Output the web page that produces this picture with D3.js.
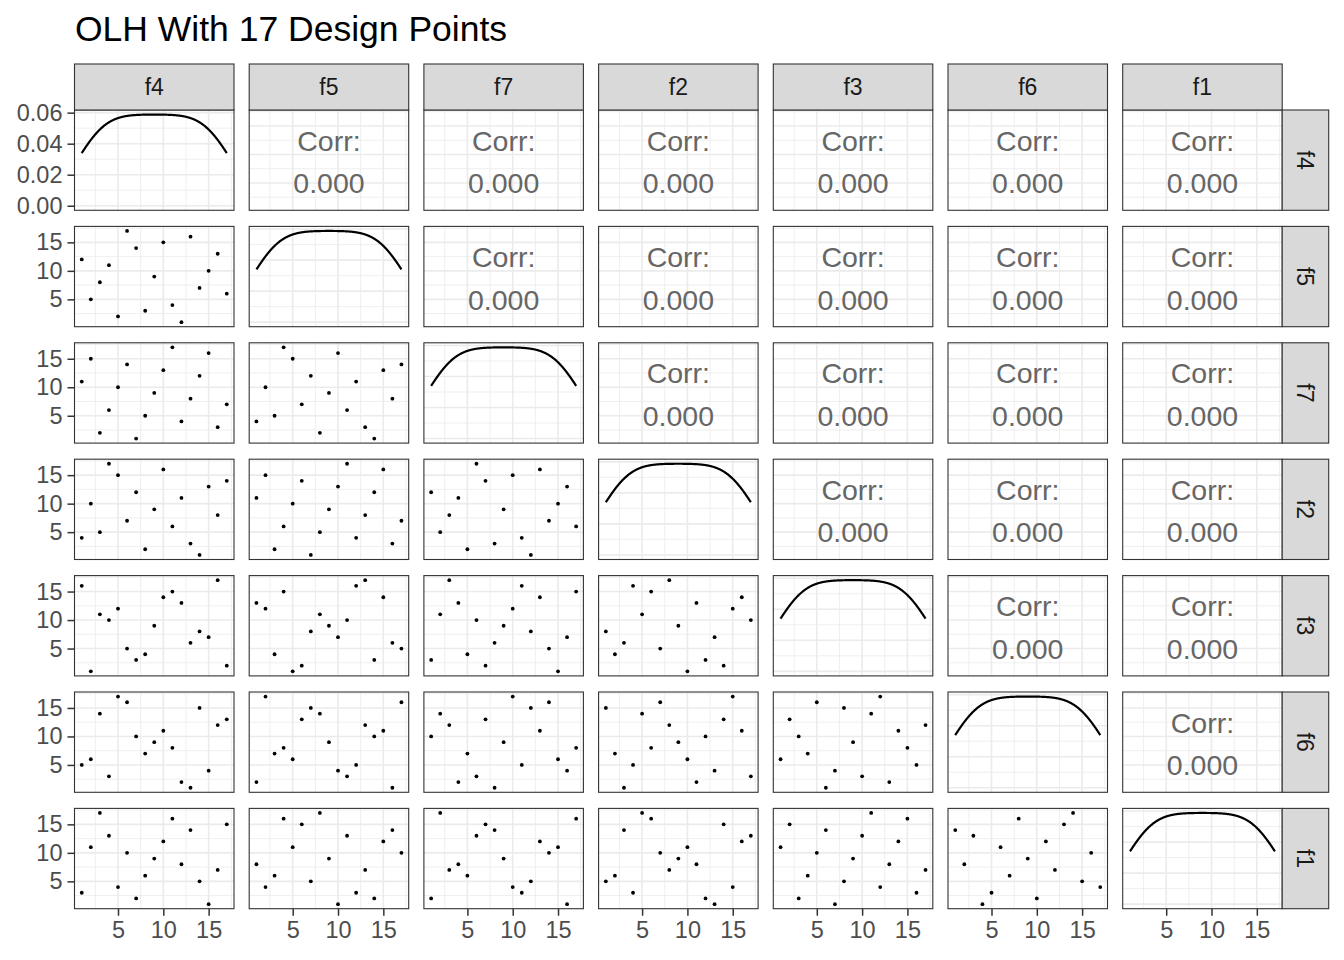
<!DOCTYPE html>
<html><head><meta charset="utf-8">
<script src="https://cdn.jsdelivr.net/npm/d3@7"></script>
<style>
body{margin:0;background:#fff}
text{font-family:"Liberation Sans",Arial,Helvetica,sans-serif}
</style>
</head><body>
<svg id="chart" width="1344" height="960"></svg>
<script>
// ---- data (17 design points, one value per variable) ----
const varNames = ["f4","f5","f7","f2","f3","f6","f1"];
const f4 = [1,2,3,4,5,6,7,8,9,10,11,12,13,14,15,16,17];
const f5 = [12,5,8,11,2,17,14,3,9,15,4,1,16,7,10,13,6];
const f7 = [11,15,2,6,10,14,1,5,9,13,17,4,8,12,16,3,7];
const f2 = [4,10,5,17,15,7,12,2,9,16,6,11,3,1,13,8,14];
const f3 = [16,1,11,10,12,5,3,4,9,14,15,13,6,8,7,17,2];
const f6 = [5,6,14,3,17,16,10,7,9,11,8,2,1,15,4,12,13];
const f1 = [3,11,17,13,4,10,2,6,9,12,16,8,14,5,1,7,15];
const columns = [f4,f5,f7,f2,f3,f6,f1];
const scatterTicks = [5,10,15];
const scatterMinor = [2.5,7.5,12.5,17.5];
const densityTicks = [0,0.02,0.04,0.06];
const densityMinor = [0.01,0.03,0.05];
const titleText = "OLH With 17 Design Points";

// ---- layout ----
const svg = d3.select("#chart");
const nV = varNames.length;
const x0 = 74.5, colPitch = 174.7, pw = 159.5;
const y0 = 110, rowPitch = 116.4, ph = 100.3;
const stripTop = 64, stripH = 46, rightStripW = 46.5;
const colL = j => x0 + j*colPitch;
const rowT = i => y0 + i*rowPitch;

const gridCol = "#EBEBEB", borderCol = "#333333";
const axisTextCol = "#4D4D4D";

// scales shared by all scatter panels
const allVals = columns.flat();
const vMin = d3.min(allVals), vMax = d3.max(allVals);
const pad = (vMax - vMin)*0.05;
const xS = d3.scaleLinear().domain([vMin-pad, vMax+pad]).range([0, pw]);
const yS = d3.scaleLinear().domain([vMin-pad, vMax+pad]).range([ph, 0]);

// kernel density (gaussian, bw.nrd0), evaluated over data range
function kde(vals){
  const s = vals.slice().sort((a,b)=>a-b);
  const n = s.length;
  const sd = d3.deviation(s);
  const iqr = d3.quantile(s,0.75) - d3.quantile(s,0.25);
  const h = 0.9*Math.min(sd, iqr/1.34)*Math.pow(n,-0.2);
  const lo = s[0], hi = s[n-1];
  return d3.range(512).map(k=>{
    const x = lo + (hi-lo)*k/511;
    const d = d3.mean(s, v=>Math.exp(-0.5*((x-v)/h)**2)/Math.sqrt(2*Math.PI))/h;
    return [x,d];
  });
}
function corr(a,b){
  const ma=d3.mean(a), mb=d3.mean(b);
  let sab=0,saa=0,sbb=0;
  for(let k=0;k<a.length;k++){sab+=(a[k]-ma)*(b[k]-mb);saa+=(a[k]-ma)**2;sbb+=(b[k]-mb)**2;}
  return sab/Math.sqrt(saa*sbb);
}

// title
svg.append("text").attr("x",75).attr("y",41).attr("font-size",35.5)
  .attr("fill","#000").text(titleText);

let densYForRow0 = null;

for(let i=0;i<nV;i++){
  for(let j=0;j<nV;j++){
    const g = svg.append("g").attr("transform",`translate(${colL(j)},${rowT(i)})`);
    g.append("rect").attr("width",pw).attr("height",ph).attr("fill","#fff");
    let yScale = yS, yMaj = scatterTicks, yMin = scatterMinor, dens=null;
    if(i===j){
      dens = kde(columns[j]);
      const dMax = d3.max(dens,d=>d[1]);
      yScale = d3.scaleLinear().domain([-0.05*dMax, 1.05*dMax]).range([ph,0]);
      yMaj = densityTicks; yMin = densityMinor;
      if(i===0) densYForRow0 = yScale;
    }
    // minor grid
    g.selectAll(null).data(scatterMinor.filter(v=>v>=xS.domain()[0]&&v<=xS.domain()[1])).enter().append("line")
      .attr("x1",d=>xS(d)).attr("x2",d=>xS(d)).attr("y1",0).attr("y2",ph)
      .attr("stroke",gridCol).attr("stroke-width",0.8);
    g.selectAll(null).data(yMin.filter(v=>v>=yScale.domain()[0]&&v<=yScale.domain()[1])).enter().append("line")
      .attr("y1",d=>yScale(d)).attr("y2",d=>yScale(d)).attr("x1",0).attr("x2",pw)
      .attr("stroke",gridCol).attr("stroke-width",0.8);
    // major grid
    g.selectAll(null).data(scatterTicks).enter().append("line")
      .attr("x1",d=>xS(d)).attr("x2",d=>xS(d)).attr("y1",0).attr("y2",ph)
      .attr("stroke",gridCol).attr("stroke-width",1.6);
    g.selectAll(null).data(yMaj.filter(v=>v>=yScale.domain()[0]&&v<=yScale.domain()[1])).enter().append("line")
      .attr("y1",d=>yScale(d)).attr("y2",d=>yScale(d)).attr("x1",0).attr("x2",pw)
      .attr("stroke",gridCol).attr("stroke-width",1.6);

    if(i===j){
      g.append("path").datum(dens)
        .attr("d", d3.line().x(d=>xS(d[0])).y(d=>yScale(d[1])))
        .attr("fill","none").attr("stroke","#000").attr("stroke-width",2.2);
    } else if(i>j){
      const xs = columns[j], ys = columns[i];
      g.selectAll(null).data(d3.range(xs.length)).enter().append("circle")
        .attr("cx",k=>xS(xs[k])).attr("cy",k=>yS(ys[k])).attr("r",1.9).attr("fill","#000");
    } else {
      let r = corr(columns[i], columns[j]);
      let s = r.toFixed(3); if(s==="-0.000") s="0.000";
      g.append("text").attr("x",pw/2).attr("y",ph/2-19.5).attr("text-anchor","middle")
        .attr("dominant-baseline","central").attr("font-size",28.5).attr("fill","#666666").text("Corr:");
      g.append("text").attr("x",pw/2).attr("y",ph/2+23).attr("text-anchor","middle")
        .attr("dominant-baseline","central").attr("font-size",28.5).attr("fill","#666666").text(s);
    }
    g.append("rect").attr("width",pw).attr("height",ph).attr("fill","none")
      .attr("stroke",borderCol).attr("stroke-width",1.1);
  }
}

// top strips
for(let j=0;j<nV;j++){
  svg.append("rect").attr("x",colL(j)).attr("y",stripTop).attr("width",pw).attr("height",stripH)
    .attr("fill","#D9D9D9").attr("stroke",borderCol).attr("stroke-width",1.1);
  svg.append("text").attr("x",colL(j)+pw/2).attr("y",stripTop+stripH/2).attr("text-anchor","middle")
    .attr("dominant-baseline","central").attr("font-size",23).attr("fill","#1A1A1A").text(varNames[j]);
}
// right strips
const rsx = colL(nV-1)+pw;
for(let i=0;i<nV;i++){
  svg.append("rect").attr("x",rsx).attr("y",rowT(i)).attr("width",rightStripW).attr("height",ph)
    .attr("fill","#D9D9D9").attr("stroke",borderCol).attr("stroke-width",1.1);
  svg.append("text").attr("transform",`translate(${rsx+rightStripW/2},${rowT(i)+ph/2}) rotate(90)`)
    .attr("text-anchor","middle").attr("dominant-baseline","central")
    .attr("font-size",23).attr("fill","#1A1A1A").text(varNames[i]);
}

function styleAxis(a){
  a.select(".domain").remove();
  a.selectAll(".tick line").attr("stroke",borderCol).attr("stroke-width",1.5);
  a.selectAll(".tick text").attr("fill",axisTextCol).attr("font-size",23.5)
    .attr("font-family","'Liberation Sans',Arial,sans-serif");
}
// left axes
for(let i=0;i<nV;i++){
  const sc = i===0 ? densYForRow0 : yS;
  const ax = i===0 ? d3.axisLeft(sc).tickValues(densityTicks).tickFormat(d3.format(".2f"))
                   : d3.axisLeft(sc).tickValues(scatterTicks).tickFormat(d3.format("d"));
  ax.tickSize(7).tickPadding(5);
  const a = svg.append("g").attr("transform",`translate(${x0},${rowT(i)})`).call(ax);
  styleAxis(a);
}
// bottom axes
for(let j=0;j<nV;j++){
  const ax = d3.axisBottom(xS).tickValues(scatterTicks).tickFormat(d3.format("d")).tickSize(7).tickPadding(6);
  const a = svg.append("g").attr("transform",`translate(${colL(j)},${rowT(nV-1)+ph})`).call(ax);
  styleAxis(a);
}
</script>
</body></html>
